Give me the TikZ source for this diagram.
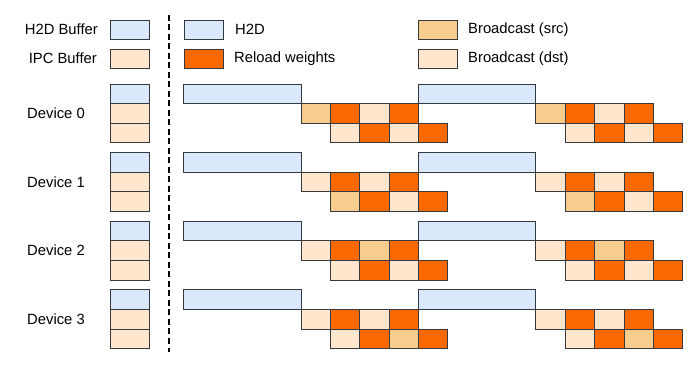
\documentclass[tikz,border=0pt]{standalone}
\usepackage{fontspec}
\setmainfont{Liberation Sans}
\definecolor{h2dc}{HTML}{DAE8FC}
\definecolor{dstc}{HTML}{FFE6CC}
\definecolor{srcc}{HTML}{F8CC8C}
\definecolor{relc}{HTML}{FA6800}
\definecolor{edgec}{HTML}{36393D}
\tikzset{
  cell/.style={draw=edgec, line width=0.9pt},
  k0/.style={fill=dstc},
  k1/.style={fill=srcc},
  k2/.style={fill=relc},
  kb/.style={fill=h2dc},
  lbl/.style={font=\fontsize{14.8}{17}\selectfont, inner sep=0pt},
}
\begin{document}
\begin{tikzpicture}[x=1pt,y=-1pt]
\useasboundingbox (0,0) rectangle (694,374);
% legend
\node[lbl, anchor=east] (lh2db) at (98,29.5) {H2D Buffer};
\node[lbl, anchor=east] (lipcb) at (97,58.5) {IPC Buffer};
\draw[cell, kb] (110,20) rectangle (149,39);
\draw[cell, k0] (110,49) rectangle (149,68);
\draw[cell, kb] (184,20) rectangle (223,39);
\draw[cell, k2] (184,49) rectangle (223,68);
\node[lbl, anchor=west] (lh2d) at (235,29.5) {H2D};
\node[lbl, anchor=west] (lrel) at (234,58.5) {Reload weights};
\draw[cell, k1] (418,20) rectangle (457,39);
\draw[cell, k0] (418,49) rectangle (457,68);
\node[lbl, anchor=west] (lsrc) at (468,29.5) {Broadcast (src)};
\node[lbl, anchor=west] (ldst) at (468,58.5) {Broadcast (dst)};
% divider
\draw[black, line width=1.8pt, dash pattern=on 6pt off 3.5pt] (169,15) -- (169,352);
% devices
\def\h{19.6}
\def\u{29.35}
\def\xo{183.7}
\foreach \d in {0,...,3}{
  \pgfmathsetmacro\yt{84+68.65*\d}
  \pgfmathtruncatemacro\sr{1+mod(\d,2)}
  \pgfmathtruncatemacro\sc{2*int(\d/2)}
  \node[lbl] (dev\d) at (56,\yt+1.5*\h) {Device \d};
  \draw[cell, kb] (110,\yt) rectangle (149,\yt+\h);
  \draw[cell, k0] (110,\yt+\h) rectangle (149,\yt+2*\h);
  \draw[cell, k0] (110,\yt+2*\h) rectangle (149,\yt+3*\h);
  \foreach \k in {0,1}{
    \pgfmathsetmacro\base{\xo+8*\u*\k}
    \draw[cell, kb] (\base,\yt) rectangle (\base+4*\u,\yt+\h);
    \foreach \r in {1,2}{
      \foreach \j in {0,...,3}{
        \pgfmathtruncatemacro\kind{isodd(\j) ? 2 : ((\r==\sr && \j==\sc) ? 1 : 0)}
        \pgfmathsetmacro\xl{\base+(3+\r+\j)*\u}
        \draw[cell, k\kind] (\xl,\yt+\r*\h) rectangle (\xl+\u,\yt+\r*\h+\h);
      }
    }
  }
}
\end{tikzpicture}
\end{document}
